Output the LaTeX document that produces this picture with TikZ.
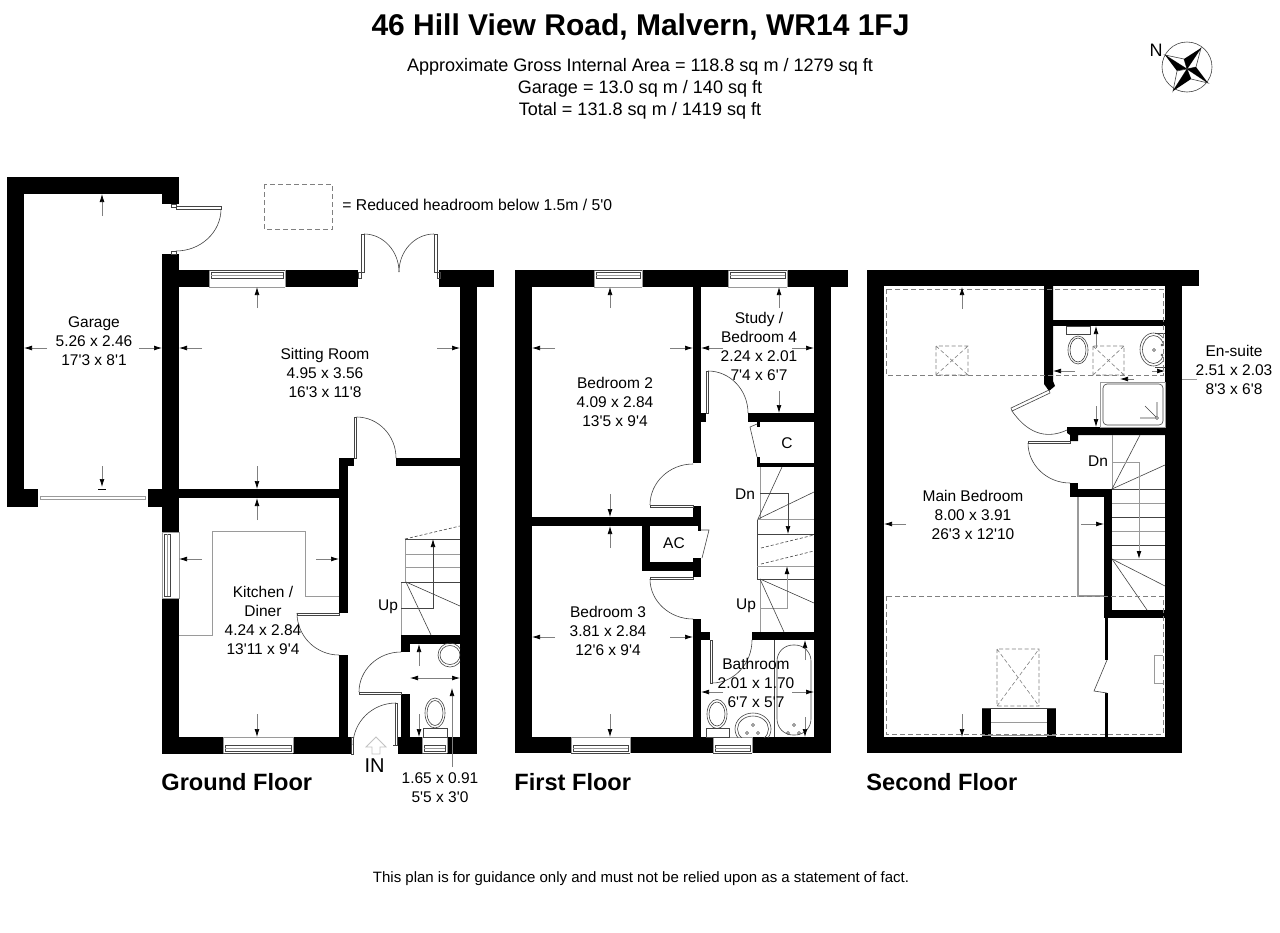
\documentclass[tikz,border=0pt]{standalone}
\usepackage{fontspec}
\setmainfont{Liberation Sans}[Ligatures=TeXOff]
\usetikzlibrary{arrows.meta}
\definecolor{finecol}{HTML}{444444}
\definecolor{soft}{HTML}{9A9A9A}
\definecolor{dashcol}{HTML}{808080}
\tikzset{
 roomlabel/.style={align=center,inner sep=0pt,font=\fontsize{7.75}{9.5}\selectfont},
 smalllabel/.style={inner sep=0pt,font=\fontsize{7.75}{9.5}\selectfont},
 floorlabel/.style={anchor=west,inner sep=0pt,font=\fontsize{11.8}{15}\selectfont\bfseries},
 dimline/.style={draw=dashcol,line width=.35pt,-{Latex[black,length=4pt,width=2.4pt]}},
 fine/.style={draw=finecol,line width=.3pt},
 rail/.style={draw=soft,line width=.45pt},
 leaf/.style={draw=finecol,line width=.3pt,fill=white},
 headroom/.style={draw=dashcol,line width=.5pt,dash pattern=on 2.5pt off 1.5pt},
 skyx/.style={draw=dashcol,line width=.3pt,dash pattern=on 2pt off 1.2pt},
}
\newcommand{\wl}[4]{\fill[black] (#1,#2) rectangle (#3,#4);}
\newcommand{\dm}[4]{\draw[dimline] (#1,#2) -- (#3,#4);}
\newcommand{\rc}[5][fine]{\draw[#1] (#2,#3) rectangle (#4,#5);}
\newcommand{\seg}[5][fine]{\draw[#1] (#2,#3) -- (#4,#5);}
% quarter circle, horizontal tangent at first point, vertical at second
\newcommand{\hv}[4]{\draw[fine] (#1,#2) .. controls ({#1+0.55*(#3-#1)},#2) and (#3,{#4-0.55*(#4-#2)}) .. (#3,#4);}
\newcommand{\wintop}[3]{%
 \draw[draw=soft,line width=.4pt] (#1,#3+17) -- (#2,#3+17) (#1,#3) -- (#1,#3+17) (#2,#3) -- (#2,#3+17);
 \draw[fine] (#1,#3) -- (#2,#3);
 \draw[fine] (#1+2,#3+2) rectangle (#2-2,#3+8);
 \draw[draw=soft,line width=.3pt] (#1+2,#3+5) -- (#2-2,#3+5);}
\newcommand{\winbot}[3]{%
 \draw[draw=soft,line width=.4pt] (#1,#3-16) -- (#2,#3-16) (#1,#3) -- (#1,#3-16) (#2,#3) -- (#2,#3-16);
 \draw[fine] (#1,#3) -- (#2,#3);
 \draw[fine] (#1+2,#3-8) rectangle (#2-2,#3-2);
 \draw[draw=soft,line width=.3pt] (#1+2,#3-5) -- (#2-2,#3-5);}
\newcommand{\skylight}[4]{\draw[skyx] (#1,#2) rectangle (#3,#4) (#1,#2) -- (#3,#4) (#1,#4) -- (#3,#2);}
\begin{document}
\begin{tikzpicture}[x=.5pt,y=-.5pt]
\useasboundingbox (0,0) rectangle (1280,932);
\fill[white] (0,0) rectangle (1280,932);
% ---------- headings
\node[inner sep=0pt,font=\fontsize{15}{18}\selectfont\bfseries] (title) at (640.5,27) {46 Hill View Road, Malvern, WR14 1FJ};
\node[inner sep=0pt,font=\fontsize{9.03}{11}\selectfont,align=center] (areas) at (640,89) {Approximate Gross Internal Area = 118.8 sq m / 1279 sq ft\\Garage = 13.0 sq m / 140 sq ft\\Total = 131.8 sq m / 1419 sq ft};
\node[inner sep=0pt,anchor=west,font=\fontsize{7.85}{10}\selectfont] (key) at (342,205) {= Reduced headroom below 1.5m / 5'0};
\draw[headroom] (264.5,184) rectangle (332,229.5);
\node[inner sep=0pt,font=\fontsize{7.5}{9}\selectfont] (note) at (641,879) {This plan is for guidance only and must not be relied upon as a statement of fact.};
% ---------- compass
\draw[fine] (1187,67) circle (25);
\node[inner sep=0pt,font=\fontsize{9}{11}\selectfont] (north) at (1156,50) {N};
\foreach \tx/\ty/\ax/\ay/\bx/\by in {1165/55/1184/59/1177/71,1201/48/1196/67/1184/59,1208/83/1191/79/1196/67,1173/91/1177/71/1191/79}{
 \draw[fine,fill=white] (\tx,\ty) -- (\ax,\ay) -- (1187,69) -- cycle;
 \fill[black] (\tx,\ty) -- (1187,69) -- (\bx,\by) -- cycle;
}
% ---------- GROUND FLOOR walls
\wl{7}{177}{179}{194}\wl{7}{177}{24}{507}\wl{7}{489}{38}{507}\wl{162}{177}{179}{204}
\wl{162}{254}{179}{532}\wl{148}{489}{179}{507}
\wl{162}{270}{209}{287}\wl{285}{270}{358}{287}\wl{439}{270}{494}{287}
\wl{460}{270}{477}{754}
\wl{179}{489}{348}{498}\wl{339}{458}{354}{466}\wl{339}{458}{348}{613}\wl{339}{655}{348}{737}
\wl{396}{458}{460}{466}
\wl{162}{598}{179}{754}\wl{162}{737}{223}{754}\wl{293}{737}{351}{754}
\wl{398}{737}{422}{754}\wl{447}{737}{477}{754}
\wl{401}{635}{460}{644}\wl{401}{635}{410}{652}\wl{401}{694}{410}{737}
% windows and doors, ground floor
\wintop{209}{285}{270}
\winbot{223}{293}{753}
\winbot{422}{447}{753}
\draw[draw=soft,line width=.4pt] (162,532) rectangle (179,598);
\draw[fine] (164,534) rectangle (170,596); \draw[draw=soft,line width=.3pt] (167,534) -- (167,596);
\rc[draw=soft,line width=.4pt]{40}{496}{145}{499}
\rc[leaf]{176}{206}{221}{209}\rc{171}{204}{176}{207}\rc{171}{251}{176}{254}
\hv{176}{251}{221}{209}
\rc[leaf]{361}{234}{364}{272}\rc{358}{272}{361}{278}
\rc[leaf]{434}{234}{437}{272}\rc{437}{272}{440}{278}
\hv{364}{234}{399}{272}\hv{434}{234}{399}{272}
\rc[leaf]{354}{417}{356.5}{458}\hv{356.5}{417}{396}{458}
\rc[leaf]{297}{613}{339}{615}\hv{339}{655}{297}{613}
\rc[leaf]{359}{692}{401}{694}\hv{401}{652}{359}{692}
\rc[leaf]{395}{703}{397.5}{745}\hv{396}{703}{353}{745}
\rc{351}{737}{353}{754}
\seg{393}{745}{398}{745}
% worktop
\draw[rail,line width=.4pt] (179,635) -- (212,635) -- (212,531) -- (305,531) -- (305,596) -- (339,596);
% stairs, ground floor
\seg[rail]{405}{539}{405}{582}\seg[rail]{401}{582}{401}{635}
\seg{405}{539}{460}{539}\seg[rail]{405}{554}{460}{554}\seg[rail]{405}{567}{460}{567}\seg{401}{582}{460}{582}
\draw[fine,dash pattern=on 1.5pt off 1pt] (405,539) -- (460,526);
\seg{406}{582}{431}{635}\seg{406}{582}{460}{606}
\draw[fine,-{Latex[black,length=4pt,width=2.4pt]}] (401,608) -- (433,608) -- (433,539);
% WC, ground floor
\draw[fine] (435,713) ellipse (10 and 15); \draw[fine] (435,713) ellipse (8 and 12.5);
\rc{423}{728}{447}{737}
\begin{scope}\clip (430,640) rectangle (460,670);
\draw[fine] (450,655) ellipse (12 and 12); \draw[fine] (450,655) ellipse (10 and 9.5);
\end{scope}
% dimension arrows, ground floor
\dm{102}{216}{102}{194}\dm{102}{466}{102}{487}\dm{47}{348}{24}{348}\dm{139}{348}{162}{348}
\seg[draw=black,line width=.4pt]{98}{489}{106}{489}
\dm{257}{308}{257}{287}\dm{202}{348}{179}{348}\dm{437}{348}{460}{348}\dm{257}{466}{257}{489}
\dm{257}{520}{257}{498}\dm{202}{559}{179}{559}\dm{316}{559}{339}{559}\dm{257}{714}{257}{737}
\dm{419}{666}{419}{644}\dm{419}{714}{419}{737}\dm{435}{678}{410}{678}\dm{435}{678}{460}{678}
\dm{452}{767}{452}{688}
\draw[draw=soft!60,line width=.4pt] (376,737) -- (386,747) -- (380,747) -- (380,754) -- (372,754) -- (372,747) -- (366,747) -- cycle;
% labels, ground floor
\node[roomlabel] (garage) at (94,341) {Garage\\5.26 x 2.46\\17'3 x 8'1};
\node[roomlabel] (sitting) at (325,373) {Sitting Room\\4.95 x 3.56\\16'3 x 11'8};
\node[roomlabel] (kitchen) at (263,620.5) {Kitchen /\\Diner\\4.24 x 2.84\\13'11 x 9'4};
\node[smalllabel] (upg) at (388,607) {Up};
\node[inner sep=0pt,font=\fontsize{10}{12}\selectfont] (inlabel) at (374.5,766) {IN};
\node[roomlabel] (wc) at (440,788) {1.65 x 0.91\\5'5 x 3'0};
\node[floorlabel] (gf) at (161,782) {Ground Floor};
% ---------- FIRST FLOOR walls
\wl{515}{270}{594}{287}\wl{642}{270}{728}{287}\wl{787}{270}{848}{287}
\wl{515}{270}{532}{753}\wl{814}{270}{831}{753}
\wl{693}{287}{701}{463}\wl{693}{413}{706}{422}\wl{748}{413}{814}{422}
\wl{757}{422}{760}{427}\wl{757}{457}{760}{467}\wl{757}{463}{814}{467}
\wl{693}{506}{701}{526}\wl{515}{517}{701}{526}
\wl{698}{526}{701}{531}\wl{642}{526}{650}{571}\wl{642}{562}{701}{571}\wl{693}{558}{701}{577}
\wl{693}{619}{701}{737}\wl{693}{632}{710}{640}\wl{752}{632}{814}{640}
\wl{515}{737}{571}{753}\wl{630}{737}{713}{753}\wl{752}{737}{831}{753}
\wintop{594}{642}{270}\wintop{728}{787}{270}
\winbot{571}{630}{753}\winbot{713}{752}{753}
% doors, first floor
\rc[leaf]{706}{371}{708}{413}\hv{708}{371}{748}{413}
\draw[fine] (757,424) -- (750,427) -- (757,457);
\rc[leaf]{650}{505}{693}{507}\hv{693}{464}{650}{505}
\draw[fine] (701,530) -- (709,530) -- (702,558);
\rc[leaf]{650}{577}{693}{579}\hv{693}{619}{650}{579}
\rc[leaf]{710}{640}{712}{683}\hv{712}{683}{752}{640}
% stairs, first floor
\seg{757}{519}{757}{579}\seg[rail]{760}{467}{760}{519}\seg[rail]{760}{579}{760}{632}
\seg[rail]{757}{519}{814}{519}\seg{757}{534}{814}{534}\seg[rail]{757}{566}{814}{566}\seg{757}{579}{814}{579}
\seg{758}{519}{782}{467}\seg{758}{519}{814}{492}
\draw[fine,-{Latex[black,length=4pt,width=2.4pt]}] (760,493) -- (788,493) -- (788,534);
\draw[fine,dash pattern=on 1.5pt off 1pt] (761,548) -- (814,535) (761,564) -- (814,551);
\draw[rail,-{Latex[black,length=4pt,width=2.4pt]}] (760,608) -- (787,608) -- (787,566);
\seg{760}{579}{784}{632}\seg{760}{579}{814}{603}
% bathroom
\seg{774}{640}{774}{737}
\draw[fine,rounded corners=8pt] (777,645) rectangle (811,735);
\draw[fine] (717,714) ellipse (10 and 14.5); \draw[fine] (717,714) ellipse (8 and 12);
\rc{706}{728}{729}{737}
\begin{scope}\clip (730,705) rectangle (780,737);
\draw[fine] (753,729) ellipse (18 and 16); \draw[fine] (753,729) ellipse (15.5 and 13);
\end{scope}
\draw[fine] (753,725) circle (1.5) (747,733) circle (1.5) (758,733) circle (1.5);
\draw[fine] (794,725) circle (1.5) (788,733) circle (1.5) (799,733) circle (1.5);
\draw[dimline] (805,660) -- (805,640); \draw[dimline] (805,717) -- (805,737);
\dm{723}{692}{701}{692}\dm{792}{692}{814}{692}
% dimension arrows, first floor
\dm{610}{308}{610}{287}\dm{555}{348}{532}{348}\dm{670}{348}{693}{348}\dm{610}{494}{610}{517}
\dm{610}{548}{610}{526}\dm{555}{637}{532}{637}\dm{670}{637}{693}{637}\dm{610}{714}{610}{737}
\dm{779}{308}{779}{287}\dm{723}{348}{701}{348}\dm{792}{348}{814}{348}\dm{779}{391}{779}{413}
% labels, first floor
\node[roomlabel] (bed2) at (615,402) {Bedroom 2\\4.09 x 2.84\\13'5 x 9'4};
\node[roomlabel] (study) at (759,346.5) {Study /\\Bedroom 4\\2.24 x 2.01\\7'4 x 6'7};
\node[smalllabel] (dnf) at (745,494) {Dn};
\node[smalllabel] (closet) at (787,443) {C};
\node[smalllabel] (ac) at (674,543) {AC};
\node[roomlabel] (bed3) at (608,631) {Bedroom 3\\3.81 x 2.84\\12'6 x 9'4};
\node[smalllabel] (upf) at (746,606) {Up};
\node[roomlabel] (bath) at (756,683) {Bathroom\\2.01 x 1.70\\6'7 x 5'7};
\node[floorlabel] (ff) at (514,782) {First Floor};
% ---------- SECOND FLOOR walls
\wl{867}{270}{1199}{286}\wl{867}{270}{884}{753}\wl{1165}{270}{1182}{753}\wl{867}{737}{1182}{753}
\fill[black] (1044,286) -- (1053,286) -- (1053,381) -- (1055,386) -- (1049,391) -- (1044,384) -- cycle;
\wl{1053}{320}{1165}{326}
\fill[black] (1067,427) -- (1165,427) -- (1165,435) -- (1078,435) -- (1078,441) -- (1070,441) -- (1070,435) -- (1067,433) -- cycle;
\wl{1070}{483}{1078}{497}\wl{1070}{489}{1112}{497}\wl{1104}{489}{1112}{618}\wl{1104}{610}{1182}{618}
\wl{1105}{618}{1107.5}{660}\wl{1105}{693}{1107.5}{737}
\wl{982}{708}{991}{737}\wl{1047}{708}{1056}{737}
\draw[fine] (982,708) -- (1056,708); \seg[rail]{991}{722}{1047}{722}\seg[rail]{982}{735}{1056}{735}
% doors, second floor
\draw[leaf] (1049,390) -- (1011,408) -- (1012,411) -- (1050,393) -- cycle;
\draw[fine] (1012,411) .. controls (1030,437) and (1050,438) .. (1067,430);
\rc[leaf]{1028}{441}{1070}{443}\hv{1070}{483}{1028}{443}
\draw[fine] (1107,660) -- (1094,691) -- (1107,693);
\draw[rail] (1154,655) -- (1163,655) (1154,655) -- (1154,683) -- (1163,683);
% en-suite
\draw[fine] (1078,350) ellipse (10 and 14); \draw[fine] (1078,350) ellipse (8 and 12);
\rc{1066}{326}{1090}{334}
\begin{scope}\clip (1135,330) rectangle (1163,370);
\draw[fine] (1153.5,349.5) ellipse (13.5 and 16.5); \draw[fine] (1153.5,349.5) ellipse (11 and 14);
\end{scope}
\draw[fine] (1154,350) circle (1.5) (1162,345) circle (1) (1162,355) circle (1);
\seg{1155}{333}{1165}{333}\seg{1155}{367}{1165}{367}
\rc[rail]{1100}{382}{1165}{427}
\draw[fine,rounded corners=2pt] (1103,384) rectangle (1163,425);
\draw[fine] (1157,418) circle (1.5) (1140,418) -- (1155.5,418) (1145,406) -- (1156,417) (1157,416.5) -- (1157,402);
% stairs, second floor
\seg[rail]{1112}{435}{1112}{489}
\seg{1112}{489}{1140}{435}\seg{1112}{489}{1165}{465}
\seg{1112}{489}{1165}{489}\seg[rail]{1112}{503}{1165}{503}\seg{1112}{517}{1165}{517}\seg[rail]{1112}{531}{1165}{531}\seg{1112}{545}{1165}{545}\seg[rail]{1112}{559}{1165}{559}
\draw[rail,-{Latex[black,length=4pt,width=2.4pt]}] (1112,462) -- (1139,462) -- (1139,559);
\seg{1112}{559}{1165}{586}\seg{1112}{559}{1147}{610}
\draw[rail,line width=.6pt] (1078,497) -- (1078,596) -- (1104,596);
% reduced headroom zones
\draw[headroom] (886,289) rectangle (1163,375);
\draw[headroom] (886,596) rectangle (1163,734);
\skylight{936}{346}{968}{375}\skylight{1093}{346}{1124}{375}\skylight{997}{649}{1039}{706}
% dimension arrows, second floor
\dm{962}{309}{962}{287}\dm{906}{524}{884}{524}\dm{1081}{524}{1104}{524}\dm{962}{714}{962}{737}
\dm{1096}{348}{1096}{326}\dm{1096}{406}{1096}{427}\dm{1075}{371}{1053}{371}\dm{1152}{371}{1165}{371}
\dm{1134}{379}{1120}{379}
\seg[rail]{1182}{379}{1197}{379}
% labels, second floor
\node[roomlabel] (main) at (973,515) {Main Bedroom\\8.00 x 3.91\\26'3 x 12'10};
\node[smalllabel] (dns) at (1098,461) {Dn};
\node[roomlabel] (ensuite) at (1234,370) {En-suite\\2.51 x 2.03\\8'3 x 6'8};
\node[floorlabel] (sf) at (866,782) {Second Floor};
\end{tikzpicture}
\end{document}
